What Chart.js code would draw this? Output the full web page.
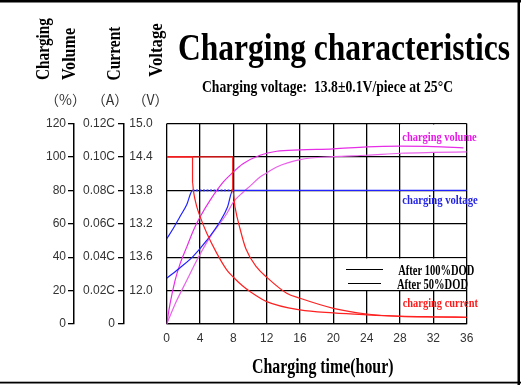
<!DOCTYPE html>
<html><head><meta charset="utf-8">
<script src="https://cdn.jsdelivr.net/npm/chart.js@4.4.1/dist/chart.umd.min.js"></script>
<style>html,body{margin:0;padding:0;background:#fff;overflow:hidden}canvas{display:block}</style>
</head><body>
<canvas id="c" width="521" height="385"></canvas>
<script>
// ---- tick labels ----
const curLabels = ['0', '0.02C', '0.04C', '0.06C', '0.08C', '0.10C', '0.12C'];
const voltLabels = ['', '12.0', '13.6', '13.2', '13.8', '14.4', '15.0'];

// ---- charging volume (%) ----
const vol50Hours = [0, 0.4, 1.0, 1.6, 2.4, 3.2, 4.0, 5.2, 6.8, 7.9, 9.2, 11.2, 13.2, 16, 20, 24, 28, 32, 35.6];
const vol50 = [0, 12, 26, 36, 46, 56, 64, 74, 85, 90.5, 96, 101, 103.4, 104.2, 104.8, 106, 106.4, 106.2, 105.4];
const vol100Hours = [0, 1.2, 2.4, 3.6, 5.2, 7.2, 8, 9.2, 10, 11.2, 12, 13.2, 16, 20, 24, 28, 32, 36];
const vol100 = [0, 14, 26, 38, 52, 66, 73, 79, 82.5, 88, 90.4, 94, 98.4, 100.2, 101, 102.2, 102.7, 103];

// ---- charging voltage (V) ----
const volt50Hours = [0, 0.8, 1.6, 2.4, 3.1, 8];
const volt50 = [12.93, 13.12, 13.33, 13.54, 13.8, 13.8];
const volt100Hours = [0, 1.6, 3.2, 4.8, 6.4, 7.3, 7.92, 36];
const volt100 = [12.22, 12.41, 12.62, 12.9, 13.24, 13.5, 13.8, 13.8];

// ---- charging current (C) ----
const cur50Hours = [0, 3.1, 3.1, 3.2, 3.6, 4, 4.8, 6, 7.2, 8, 9.2, 10, 12, 16, 20, 24, 28, 32, 36];
const cur50 = [0.1, 0.1, 0.085, 0.08, 0.0704, 0.0644, 0.0544, 0.0424, 0.0324, 0.028, 0.0224, 0.0194, 0.0134, 0.0084, 0.0066, 0.0055, 0.0047, 0.0043, 0.004];
const cur100Hours = [0, 7.92, 7.92, 8.2, 8.8, 9.5, 10.8, 12, 14.4, 16, 20, 24, 28, 32, 36];
const cur100 = [0.1, 0.1, 0.08, 0.07, 0.057, 0.045, 0.034, 0.028, 0.0184, 0.0154, 0.0094, 0.006, 0.0045, 0.0042, 0.004];

const RED = '#ff2020', BLUE = '#2222ff', MAG1 = '#e62ee6', MAG2 = '#ea62ea';
function pts(xs, ys) { return xs.map((x, i) => ({x: x, y: ys[i]})); }

function fitText(ctx, text, x, y, font, width, color, rotate) {
  ctx.save();
  ctx.font = font; ctx.fillStyle = color; ctx.textAlign = 'left'; ctx.textBaseline = 'alphabetic';
  const w = ctx.measureText(text).width;
  ctx.translate(x, y);
  if (rotate) ctx.rotate(-Math.PI / 2);
  ctx.scale(width / w, 1);
  ctx.fillText(text, 0, 0);
  ctx.restore();
}

const SERIF = '"Liberation Serif", "Times New Roman", serif';
const deco = {
  id: 'deco',
  beforeDraw(chart) {
    const c = chart.ctx; c.save(); c.fillStyle = '#fff'; c.fillRect(0, 0, chart.width, chart.height); c.restore();
  },
  beforeDatasetsDraw(chart) {
    const c = chart.ctx; c.save(); c.fillStyle = '#fff';
    c.fillRect(400, 124.5, 66, 28.5);
    c.fillRect(336, 258.5, 130, 31.5);
    c.restore();
  },
  afterDraw(chart) {
    const c = chart.ctx;
    fitText(c, 'Charging characteristics', 178, 60, 'bold 38px ' + SERIF, 332, '#000');
    fitText(c, 'Charging voltage:  13.8\u00b10.1V/piece at 25\u00b0C', 202, 91.5, 'bold 17px ' + SERIF, 251, '#000');
    fitText(c, 'Charging', 48.5, 80, 'bold 19px ' + SERIF, 62, '#000', true);
    fitText(c, 'Volume', 75, 80, 'bold 19px ' + SERIF, 52, '#000', true);
    fitText(c, 'Current', 120, 80.5, 'bold 19px ' + SERIF, 54, '#000', true);
    fitText(c, 'Voltage', 161.5, 76.7, 'bold 19px ' + SERIF, 53.5, '#000', true);
    c.save();
    c.font = '14px "Noto Sans CJK SC"'; c.fillStyle = '#333'; c.textAlign = 'center'; c.textBaseline = 'middle';
    c.fillText('\uff08%\uff09', 65.5, 100);
    c.fillText('\uff08A\uff09', 110, 100);
    c.fillText('\uff08V\uff09', 150.5, 100);
    c.restore();
    fitText(c, 'Charging time(hour)', 252, 373, 'bold 20px ' + SERIF, 141.5, '#000');
    fitText(c, 'charging volume', 402.3, 141, 'bold 13px ' + SERIF, 74.4, '#e619e6');
    fitText(c, 'charging voltage', 402.3, 204, 'bold 13px ' + SERIF, 75.4, '#2323e6');
    fitText(c, 'charging current', 402.7, 307, 'bold 13px ' + SERIF, 75.3, '#ff1a1a');
    fitText(c, 'After 100%DOD', 398.3, 275, 'bold 14px ' + SERIF, 76, '#000');
    fitText(c, 'After 50%DOD', 397, 289, 'bold 14px ' + SERIF, 71, '#000');
    c.save();
    c.strokeStyle = '#000'; c.lineWidth = 1.2;
    c.beginPath(); c.moveTo(346, 269.5); c.lineTo(383, 269.5); c.moveTo(348, 283.5); c.lineTo(381, 283.5); c.stroke();
    c.fillStyle = '#000';
    c.fillRect(0, 0, 521, 2.5);
    c.fillRect(517.5, 0, 2.5, 385);
    c.fillRect(0, 381.7, 521, 1.8);
    c.restore();
  }
};

const tickFont = {family: '"Liberation Sans Narrow", "Liberation Sans", sans-serif', size: 12};
const gridCol = '#000';

new Chart(document.getElementById('c').getContext('2d'), {
  type: 'line',
  data: {
    datasets: [
      {label: 'current 50%DOD', data: pts(cur50Hours, cur50), yAxisID: 'cur', borderColor: RED},
      {label: 'current 100%DOD', data: pts(cur100Hours, cur100), yAxisID: 'cur', borderColor: RED},
      {label: 'voltage 50%DOD', data: pts(volt50Hours, volt50), yAxisID: 'volt', borderColor: BLUE,
        segment: {borderDash: ctx => ctx.p0.parsed.x >= 3 ? [2, 1.5] : undefined, borderWidth: ctx => ctx.p0.parsed.x >= 3 ? 1.6 : undefined}},
      {label: 'voltage 100%DOD', data: pts(volt100Hours, volt100), yAxisID: 'volt', borderColor: BLUE},
      {label: 'volume 50%DOD', data: pts(vol50Hours, vol50), yAxisID: 'vol', borderColor: MAG1},
      {label: 'volume 100%DOD', data: pts(vol100Hours, vol100), yAxisID: 'vol', borderColor: MAG2}
    ]
  },
  options: {
    responsive: false, animation: false, devicePixelRatio: 1,
    layout: {padding: {top: 123.5, right: 54.3, left: 0, bottom: 0}},
    elements: {point: {radius: 0}, line: {borderWidth: 1.2, cubicInterpolationMode: 'monotone', fill: false}},
    plugins: {legend: {display: false}, tooltip: {enabled: false}, title: {display: false}},
    scales: {
      x: {
        type: 'linear', min: 0, max: 36,
        ticks: {stepSize: 4, color: '#333', font: tickFont, padding: 7, maxRotation: 0},
        grid: {color: gridCol, lineWidth: 1.3, drawTicks: false},
        border: {display: true, color: gridCol, width: 1.3},
        afterFit: s => { s.height = 61; }
      },
      vol: {
        position: 'left', weight: 3, min: 0, max: 120,
        ticks: {stepSize: 20, padding: 2, color: '#333', font: tickFont},
        grid: {drawOnChartArea: false, tickLength: 6, color: gridCol, lineWidth: 1.3},
        border: {display: true, color: gridCol, width: 1.5},
        afterFit: s => { s.width = 74; }
      },
      cur: {
        position: 'left', weight: 2, min: 0, max: 0.12,
        ticks: {count: 7, padding: 3, color: '#333', font: tickFont, callback: (v, i) => curLabels[i]},
        grid: {drawOnChartArea: false, tickLength: 6, color: gridCol, lineWidth: 1.3},
        border: {display: true, color: gridCol, width: 1.5},
        afterFit: s => { s.width = 50; }
      },
      volt: {
        position: 'left', weight: 1, min: 11.4, max: 15.0,
        ticks: {count: 7, padding: 14, color: '#333', font: tickFont, callback: (v, i) => voltLabels[i]},
        grid: {drawTicks: false, color: gridCol, lineWidth: 1.3},
        border: {display: false},
        afterFit: s => { s.width = 42.7; }
      }
    }
  },
  plugins: [deco]
});
</script>
</body></html>
